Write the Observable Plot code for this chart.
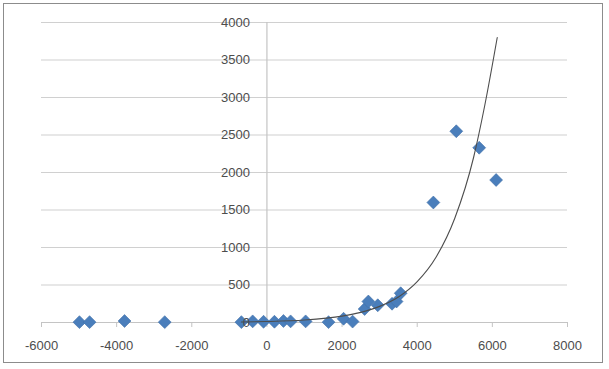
<!DOCTYPE html>
<html>
<head>
<meta charset="utf-8">
<script src="https://cdn.jsdelivr.net/npm/d3@7"></script>
<script src="https://cdn.jsdelivr.net/npm/@observablehq/plot@0.6"></script>
<style>
  html, body { margin: 0; padding: 0; background: #fff; }
  #wrap { position: relative; width: 609px; height: 369px; }
  #border { position: absolute; left: 3px; top: 3px; width: 598px; height: 358px; border: 1.5px solid #8c8c8c; pointer-events: none; }
  #chart { position: absolute; left: 0; top: 0; }
</style>
</head>
<body>
<div id="wrap"><div id="chart"></div><div id="border"></div></div>
<script>
// Scatter data
const xValues = [-4990, -4720, -3790, -2720, -680, -380, -90, 200, 440, 630, 1030, 1640, 2040, 2280, 2600, 2700, 2950, 3330, 3450, 3560, 4430, 5040, 5650, 6100];
const yValues = [5, 5, 20, 5, 5, 15, 10, 10, 20, 15, 15, 5, 50, 12, 180, 280, 230, 250, 280, 390, 1600, 2550, 2330, 1900];

// Exponential trend line
const trendX = [-680, 0, 1000, 2000, 2500, 3000, 3500, 4000, 4500, 5000, 5500, 5800, 6130];
const trendY = [7, 13, 33, 85, 135, 215, 340, 545, 870, 1390, 2200, 2900, 3800];

// Tick labels
const xTicks = [-6000, -4000, -2000, 0, 2000, 4000, 6000, 8000];
const yTicks = [0, 500, 1000, 1500, 2000, 2500, 3000, 3500, 4000];

const points = xValues.map((x, i) => ({x, y: yValues[i]}));
const trend = trendX.map((x, i) => ({x, y: trendY[i]}));
const yGrid = yTicks.filter(d => d > 0);

const font = "Liberation Sans, Arial, sans-serif";
const textColor = "#4d4d4d";

const chart = Plot.plot({
  width: 609,
  height: 369,
  marginLeft: 41,
  marginRight: 42,
  marginTop: 22,
  marginBottom: 47,
  style: {fontFamily: font, fontSize: "13px", color: textColor, background: "transparent"},
  x: {domain: [-6000, 8000], ticks: xTicks},
  y: {domain: [0, 4000], ticks: yTicks, axis: null},
  marks: [
    Plot.ruleY(yGrid, {stroke: "#d0d0d0", strokeWidth: 1.2}),
    Plot.ruleX([0], {stroke: "#c4c4c4", strokeWidth: 1.2}),
    Plot.ruleY([0], {stroke: "#c4c4c4", strokeWidth: 1.2}),
    Plot.axisX({ticks: xTicks, tickSize: 5, tickPadding: 13, stroke: "#c4c4c4", fill: textColor, fontSize: 13, label: null, tickFormat: d => String(d)}),
    Plot.dot(points, {x: "x", y: "y", symbol: "diamond2", r: 5.8, fill: "#4a7ebb", stroke: "#3f6fa8", strokeWidth: 0.6}),
    Plot.line(trend, {x: "x", y: "y", curve: "monotone-x", stroke: "#4d4d4d", strokeWidth: 1.1}),
    Plot.text(yTicks, {x: () => 0, y: d => d, text: d => String(d), textAnchor: "end", dx: -17, fill: textColor, fontSize: 13})
  ]
});
document.getElementById("chart").appendChild(chart);
</script>
</body>
</html>
